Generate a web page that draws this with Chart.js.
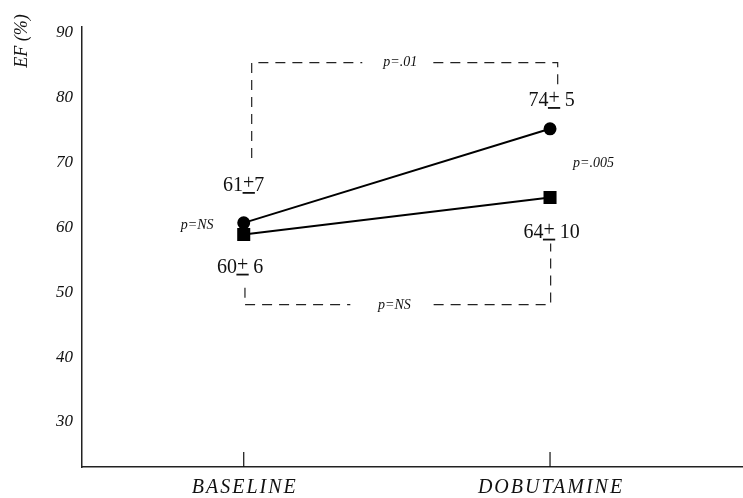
<!DOCTYPE html>
<html>
<head>
<meta charset="utf-8">
<script src="https://cdn.jsdelivr.net/npm/chart.js@4.4.1/dist/chart.umd.min.js"></script>
<style>
  html, body { margin: 0; padding: 0; background: #fff; }
  #wrap { width: 743px; height: 498px; }
</style>
</head>
<body>
<div id="wrap"><canvas id="chart"></canvas></div>
<script>
// categories and values (EF %)
var categories = ['BASELINE', 'DOBUTAMINE'];
var circleValues = [60.7, 75.2];
var squareValues = [58.9, 64.6];
var yTicks = [30, 40, 50, 60, 70, 80, 90];

// comparison brackets (data units), null breaks the dashed line
var topBracket = [[0.026, 70.7], [0.026, 85.4], [0.387, 85.4], null, [0.619, 85.4], [1.025, 85.4], [1.025, 82]];
var bottomBracket = [[0.004, 50.7], [0.004, 48.1], [0.348, 48.1], null, [0.62, 48.1], [1.002, 48.1], [1.002, 57.5]];

// text notes: value labels and p values
var meanLabels = [
  { text: '61±7', x: 0, y: 66.4 },
  { text: '60± 6', x: -0.012, y: 53.8 },
  { text: '74± 5', x: 1.005, y: 79.5 },
  { text: '64± 10', x: 1.005, y: 59.2 }
];
var pLabels = [
  { text: 'p=.01', x: 0.511, y: 85.4 },
  { text: 'p=NS', x: 0.492, y: 48.0 },
  { text: 'p=NS', x: -0.152, y: 60.3 },
  { text: 'p=.005', x: 1.142, y: 69.9 }
];

function toPts(arr) {
  return arr.map(function (p) { return p ? { x: p[0], y: p[1] } : { x: null, y: null }; });
}
function catPts(vals) {
  return vals.map(function (v, i) { return { x: i, y: v }; });
}

var serif = '"Liberation Serif", "Times New Roman", serif';

var notes = {
  id: 'notes',
  afterDatasetsDraw: function (chart) {
    var ctx = chart.ctx;
    var xs = chart.scales.x, ys = chart.scales.y;
    var bottom = chart.chartArea.bottom;
    ctx.save();
    ctx.fillStyle = '#111';
    ctx.strokeStyle = '#111';
    ctx.textBaseline = 'middle';

    // inward ticks and category names
    ctx.lineWidth = 1.2;
    ctx.font = 'italic 20px ' + serif;
    ctx.textAlign = 'center';
    categories.forEach(function (c, i) {
      var px = xs.getPixelForValue(i);
      ctx.beginPath();
      ctx.moveTo(px, bottom);
      ctx.lineTo(px, bottom - 15);
      ctx.stroke();
      ctx.letterSpacing = '2px';
      ctx.fillText(c, px + 1, bottom + 21);
      ctx.letterSpacing = '0px';
    });

    // mean ± sd labels, plus sign underlined
    ctx.font = '20px ' + serif;
    meanLabels.forEach(function (l) {
      var parts = l.text.split('±');
      var w1 = ctx.measureText(parts[0]).width;
      var wp = ctx.measureText('+').width;
      var w2 = ctx.measureText(parts[1]).width;
      var total = w1 + wp + w2;
      var cx = xs.getPixelForValue(l.x), cy = ys.getPixelForValue(l.y);
      var x0 = cx - total / 2;
      ctx.textAlign = 'left';
      ctx.fillText(parts[0], x0, cy);
      ctx.fillText('+', x0 + w1, cy - 2);
      ctx.fillText(parts[1], x0 + w1 + wp, cy);
      ctx.lineWidth = 1.8;
      ctx.beginPath();
      ctx.moveTo(x0 + w1 - 0.5, cy + 7);
      ctx.lineTo(x0 + w1 + wp + 0.5, cy + 7);
      ctx.stroke();
    });

    // p values
    ctx.font = 'italic 14px ' + serif;
    ctx.textAlign = 'center';
    pLabels.forEach(function (l) {
      ctx.fillText(l.text, xs.getPixelForValue(l.x), ys.getPixelForValue(l.y));
    });

    // y axis title, top left
    ctx.font = 'italic 18px ' + serif;
    ctx.translate(22, 41);
    ctx.rotate(-Math.PI / 2);
    ctx.fillText('EF (%)', 0, 0);
    ctx.restore();
  }
};

var dashStyle = {
  borderColor: '#222',
  borderWidth: 1.2,
  borderDash: [10, 7],
  pointRadius: 0,
  spanGaps: false,
  fill: false
};

new Chart(document.getElementById('chart'), {
  type: 'line',
  data: {
    datasets: [
      {
        data: catPts(circleValues),
        borderColor: '#000',
        backgroundColor: '#000',
        borderWidth: 2,
        pointStyle: 'circle',
        pointRadius: 5.5,
        fill: false
      },
      {
        data: catPts(squareValues),
        borderColor: '#000',
        backgroundColor: '#000',
        borderWidth: 2,
        pointStyle: 'rect',
        pointRadius: 7.8,
        fill: false
      },
      Object.assign({ data: toPts(topBracket) }, dashStyle),
      Object.assign({ data: toPts(bottomBracket) }, dashStyle)
    ]
  },
  options: {
    responsive: true,
    maintainAspectRatio: false,
    animation: false,
    layout: { autoPadding: false, padding: { top: 27, right: 0, left: 0, bottom: 0 } },
    plugins: { legend: { display: false }, tooltip: { enabled: false } },
    scales: {
      x: {
        type: 'linear',
        min: -0.528,
        max: 1.63,
        grid: { display: false, drawTicks: false },
        border: { display: true, color: '#222', width: 1.5 },
        afterBuildTicks: function (scale) {
          scale.ticks = categories.map(function (c, i) { return { value: i }; });
        },
        afterFit: function (scale) { scale.height = 31; },
        ticks: { display: false }
      },
      y: {
        min: 23.05,
        max: 90.9,
        grid: { display: false, drawTicks: false },
        border: { display: true, color: '#222', width: 1.5 },
        afterBuildTicks: function (scale) {
          scale.ticks = yTicks.map(function (t) { return { value: t }; });
        },
        afterFit: function (scale) { scale.width = 82; },
        ticks: {
          padding: 9,
          color: '#111',
          font: { family: serif, style: 'italic', size: 17 }
        }
      }
    }
  },
  plugins: [notes]
});
</script>
</body>
</html>
